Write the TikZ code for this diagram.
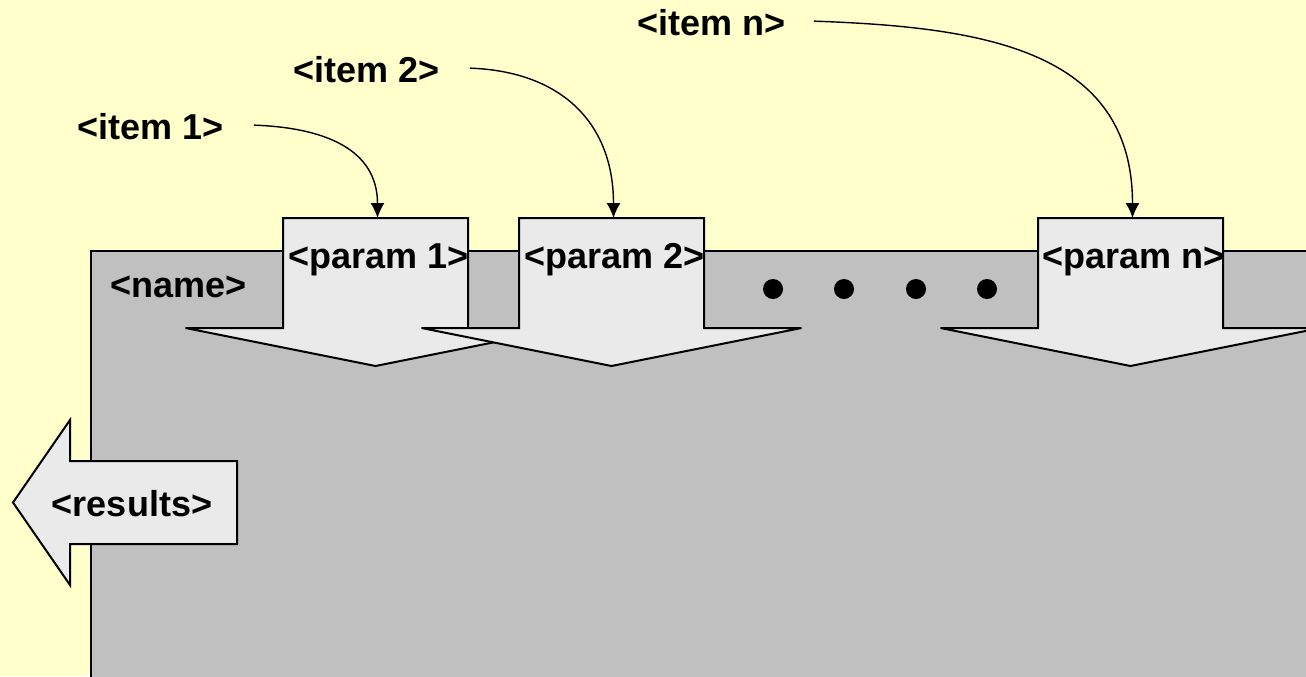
\documentclass[tikz,border=0pt]{standalone}
\usepackage{fontspec}
\setmainfont{Liberation Sans}
\usetikzlibrary{arrows.meta}
\definecolor{paper}{HTML}{FFFFCC}
\definecolor{boxgray}{HTML}{C0C0C0}
\definecolor{arrowgray}{HTML}{EAEAEA}
\tikzset{
  label text/.style={font=\fontsize{18}{21}\selectfont\bfseries, inner sep=0pt},
  body/.style={draw=black, line width=1pt, fill=boxgray},
  fat arrow/.style={draw=black, line width=1pt, fill=arrowgray, line join=miter},
  feed/.style={draw=black, line width=0.7pt, -{Latex[length=7.5pt,width=7pt]}},
  bullet/.style={circle, fill=black, minimum size=10pt, inner sep=0pt},
}
\begin{document}
\begin{tikzpicture}[x=0.5pt, y=-0.5pt]
  % page area
  \clip (0,0) rectangle (1306,676);
  \fill[paper] (0,0) rectangle (1306,676);

  % function body
  \path[body] (91,251) rectangle (1330,700);
  \node[label text, anchor=base west] (name) at (110,297) {<name>};

  % result arrow leaving to the left
  \path[fat arrow] (237,461) -- (70,461) -- (70,420) -- (13,502.5)
        -- (70,585) -- (70,544) -- (237,544) -- cycle;
  \node[label text] (results) at (132,504) {<results>};

  % parameter arrows entering from the top
  \foreach \cx/\id/\txt in {375.5/p1/{<param 1>}, 611.5/p2/{<param 2>}, 1130.5/pn/{<param n>}}{
    \begin{scope}[shift={(\cx,0)}]
      \path[fat arrow] (-92.5,218) -- (92.5,218) -- (92.5,328) -- (190,328)
            -- (0,366) -- (-190,328) -- (-92.5,328) -- cycle;
      \coordinate (\id top) at (2,218);
      \node[label text, anchor=base] (\id) at (3,268) {\txt};
    \end{scope}
  }

  % ellipsis between the parameters
  \foreach \x/\k in {773/1, 844/2, 916/3, 987/4}
    \node[bullet] (dot\k) at (\x,289) {};

  % argument items
  \node[label text, anchor=base west] (i1) at (77,139) {<item 1>};
  \node[label text, anchor=base west] (i2) at (293,82) {<item 2>};
  \node[label text, anchor=base west] (in) at (637,35) {<item n>};

  \draw[feed] (i1.east) ++(30,-1) to[out=-2, in=90, looseness=1.15] (p1top);
  \draw[feed] (i2.east) ++(30,-1) to[out=-2, in=90, looseness=1.15] (p2top);
  \draw[feed] (in.east) ++(28,-1) to[out=-2, in=90, looseness=1.15] (pntop);
\end{tikzpicture}
\end{document}
